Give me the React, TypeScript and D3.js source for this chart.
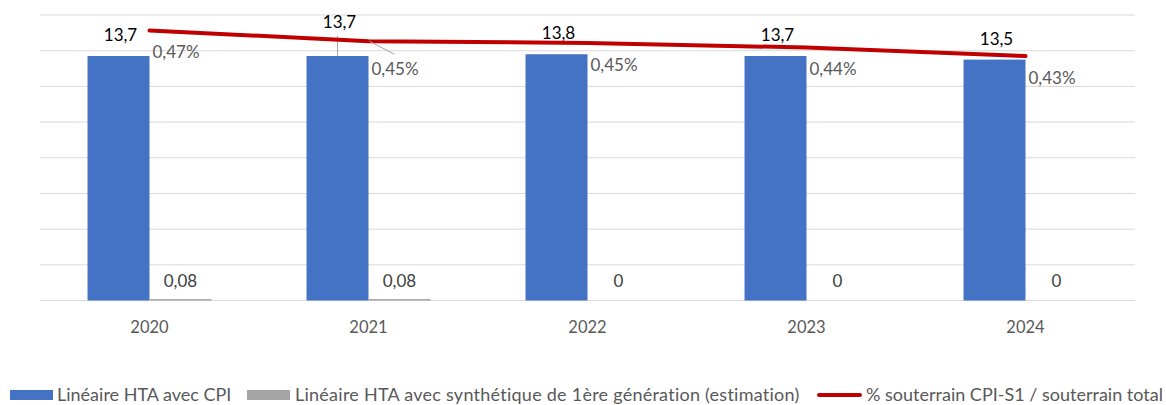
import React from "react";
import * as d3 from "d3";

const years = ["2020", "2021", "2022", "2023", "2024"];
const lineaireCPI = [13.7, 13.7, 13.8, 13.7, 13.5];
const lineaireSynth = [0.08, 0.08, 0, 0, 0];
const pctSouterrain = [0.473, 0.454, 0.451, 0.443, 0.428];
const yTicks = [0, 2, 4, 6, 8, 10, 12, 14, 16];

const seriesNames = [
  "Linéaire HTA avec CPI",
  "Linéaire HTA avec synthétique de 1ère génération (estimation)",
  "% souterrain CPI-S1 / souterrain total",
];

const W = 1166;
const H = 405;
const FONT = "Lato, 'Open Sans', sans-serif";
const BLUE = "#4472C4";
const GREY = "#A5A5A5";
const RED = "#C00000";

const fmt = (v: number, d: number) => v.toFixed(d).replace(".", ",");
const fmtNum = (v: number) => (v === 0 ? "0" : String(v).replace(".", ","));

export default function App() {
  const left = 40;
  const right = 1135;
  const top = 15;
  const bottom = 300.5;

  const p = 0.434;
  const x = d3.scaleBand<string>().domain(years).range([left, right]).paddingInner(p).paddingOuter(p / 2);
  const sub = d3.scaleBand<string>().domain(["a", "b"]).range([0, x.bandwidth()]);
  const y = d3.scaleLinear().domain([0, 16]).range([bottom, top]);
  const y2 = d3.scaleLinear().domain([0, 0.5]).range([bottom, top]);
  const cx = (yr: string) => (x(yr) as number) + x.bandwidth() / 2;

  const lineGen = d3
    .line<number>()
    .x((_, i) => cx(years[i]))
    .y((v) => y2(v));

  // label tweaks for labels moved off their default place
  const barLabelLift: Record<string, number> = { "2021": 28 };
  const pctLabelDrop: Record<string, number> = { "2021": 28 };

  const legendY = 395;

  return (
    <div style={{ position: "fixed", left: 0, top: 0 }}>
      <svg width={W} height={H} style={{ display: "block", background: "#fff" }} fontFamily={FONT}>
        {yTicks.map((t) => (
          <line key={t} x1={left} x2={right} y1={y(t)} y2={y(t)} stroke="#D9D9D9" strokeWidth={1} />
        ))}
        {years.map((yr, i) => {
          const x0 = x(yr) as number;
          const bx = x0 + (sub("a") as number);
          const gx = x0 + (sub("b") as number);
          const bw = sub.bandwidth();
          const topY = y(lineaireCPI[i]);
          const gTop = y(lineaireSynth[i]);
          const lift = barLabelLift[yr] ?? 15;
          return (
            <g key={yr}>
              <rect x={bx} y={topY} width={bw} height={bottom - topY} fill={BLUE} />
              {lineaireSynth[i] > 0 && (
                <rect x={gx} y={gTop} width={bw} height={bottom - gTop} fill={GREY} />
              )}
              {barLabelLift[yr] !== undefined && (
                <line x1={bx + bw / 2} x2={bx + bw / 2} y1={topY - lift + 8} y2={topY} stroke="#A6A6A6" strokeWidth={1} />
              )}
              <text x={bx + bw / 2 + 2} y={topY - lift} textAnchor="middle" fontSize={17} fill="#000">
                {fmtNum(lineaireCPI[i])}
              </text>
              <text x={gx + bw / 2} y={bottom - 14} textAnchor="middle" fontSize={17} fill="#404040">
                {fmtNum(lineaireSynth[i])}
              </text>
              <text x={cx(yr)} y={333} textAnchor="middle" fontSize={16.5} fill="#595959">
                {yr}
              </text>
            </g>
          );
        })}
        <path d={lineGen(pctSouterrain) || ""} fill="none" stroke={RED} strokeWidth={4} strokeLinecap="round" strokeLinejoin="round" />
        {years.map((yr, i) => {
          const px = cx(yr);
          const py = y2(pctSouterrain[i]);
          const drop = pctLabelDrop[yr] ?? 22;
          return (
            <g key={"p" + yr}>
              {pctLabelDrop[yr] !== undefined && (
                <line x1={px + 1} y1={py} x2={px + 26} y2={py + 13} stroke="#A6A6A6" strokeWidth={1} />
              )}
              <text x={px + 3} y={py + drop} dy="0.35em" fontSize={17} fill="#595959">
                {fmt(pctSouterrain[i], 2)}%
              </text>
            </g>
          );
        })}
        <g fontSize={18} fill="#595959">
          <rect x={10} y={legendY - 5} width={43} height={10} fill={BLUE} />
          <text x={57} y={legendY} dy="0.35em">{seriesNames[0]}</text>
          <rect x={247} y={legendY - 5} width={43} height={10} fill={GREY} />
          <text x={295} y={legendY} dy="0.35em" letterSpacing={0.25}>{seriesNames[1]}</text>
          <line x1={819} x2={860} y1={legendY} y2={legendY} stroke={RED} strokeWidth={4} strokeLinecap="round" />
          <text x={866} y={legendY} dy="0.35em">{seriesNames[2]}</text>
        </g>
      </svg>
    </div>
  );
}
